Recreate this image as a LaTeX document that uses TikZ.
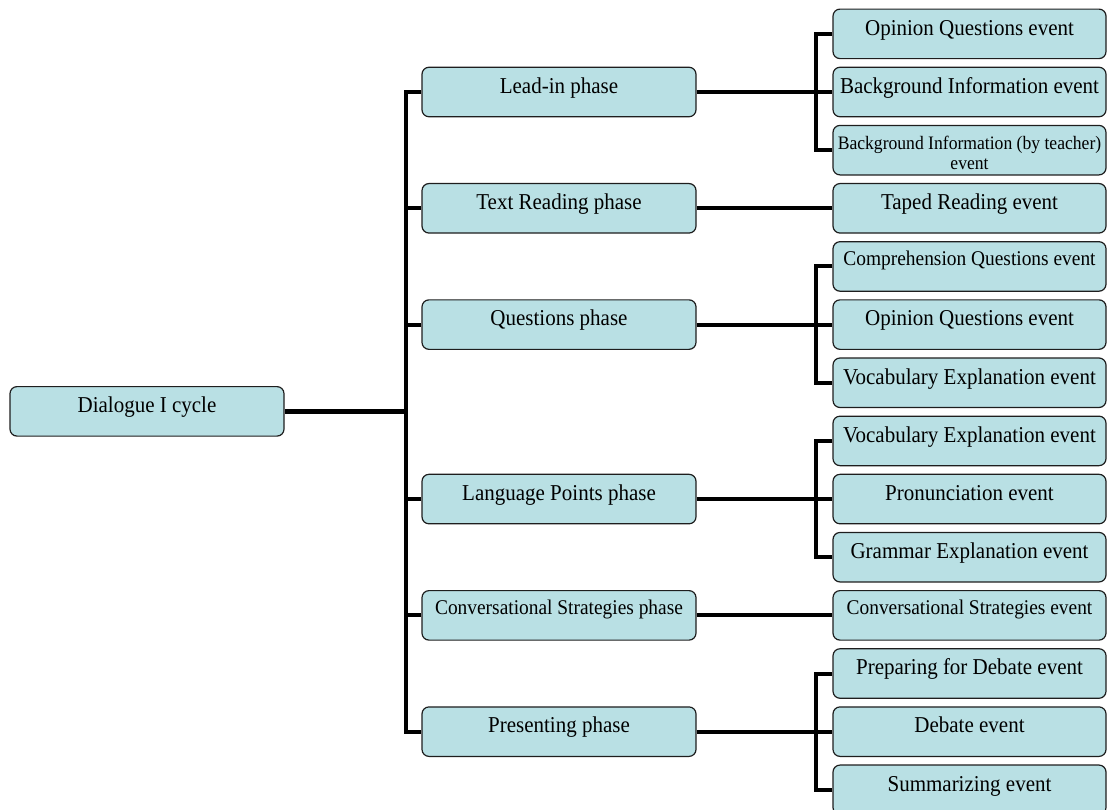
\documentclass[tikz,border=0pt]{standalone}
\usepackage{graphicx}
\usepackage{fontspec}
\setmainfont{Liberation Serif}
\definecolor{boxfill}{RGB}{185,224,228}
\definecolor{boxline}{RGB}{30,30,30}
\newcommand{\tall}[1]{\scalebox{1}[1.08]{#1}}
\tikzset{
  box/.style={draw=boxline, line width=1.2pt, fill=boxfill, rounded corners=7pt,
    minimum width=#1, inner sep=0pt, text height=26pt, text depth=23.5pt,
    anchor=north, font=\fontsize{21}{24}\selectfont},
  box/.default=273pt,
  smallbox/.style={text height=24pt, text depth=25.5pt, font=\fontsize{19.4}{22}\selectfont},
  tinybox/.style={text height=24pt, text depth=25.5pt, font=\fontsize{17.6}{19}\selectfont},
  conn/.style={line width=4pt, black, line join=miter},
}
\begin{document}
\begin{tikzpicture}[x=1pt,y=-1pt]
\useasboundingbox (0,0) rectangle (1107,809);
% root
\node[box=274pt] (root) at (147,386) {\tall{Dialogue I cycle}};
\coordinate (tr) at (406,0);
% phases
\node[box=274pt] (lead)  at (559,66.65)  {\tall{Lead-in phase}};
\node[box=274pt] (textr) at (559,182.95) {\tall{Text Reading phase}};
\node[box=274pt] (quest) at (559,299.25) {\tall{Questions phase}};
\node[box=274pt] (lang)  at (559,473.7)  {\tall{Language Points phase}};
\node[box=274pt, smallbox] (conv) at (559,590) {\tall{Conversational Strategies phase}};
\node[box=274pt] (pres)  at (559,706.3)  {\tall{Presenting phase}};
% events
\node[box] (e1)  at (969.5,8.5)    {\tall{Opinion Questions event}};
\node[box] (e2)  at (969.5,66.65)  {\tall{Background Information event}};
\node[box, tinybox] (e3) at (969.5,124.8) {\tall{\begin{tabular}[t]{@{}c@{}}Background Information (by teacher)\\event\end{tabular}}};
\node[box] (e4)  at (969.5,182.95) {\tall{Taped Reading event}};
\node[box, smallbox] (e5) at (969.5,241.1) {\tall{Comprehension Questions event}};
\node[box] (e6)  at (969.5,299.25) {\tall{Opinion Questions event}};
\node[box] (e7)  at (969.5,357.4)  {\tall{Vocabulary Explanation event}};
\node[box] (e8)  at (969.5,415.55) {\tall{Vocabulary Explanation event}};
\node[box] (e9)  at (969.5,473.7)  {\tall{Pronunciation event}};
\node[box] (e10) at (969.5,531.85) {\tall{Grammar Explanation event}};
\node[box, smallbox] (e11) at (969.5,590) {\tall{Conversational Strategies event}};
\node[box] (e12) at (969.5,648.15) {\tall{Preparing for Debate event}};
\node[box] (e13) at (969.5,706.3)  {\tall{Debate event}};
\node[box] (e14) at (969.5,764.45) {\tall{Summarizing event}};
% root to trunk
\draw[conn, line width=5pt] (root.east) -- (root.east -| tr);
\draw[conn] (lead.west) -- (lead.west -| tr) -- (pres.west -| tr) -- (pres.west);
\foreach \p in {textr,quest,lang,conv}
  \draw[conn] (\p.west) -- (\p.west -| tr);
% phases to events
\draw[conn] (lead.east) -- (e2.west);
\draw[conn] (e1.west) -- ++(-16,0) |- (e3.west);
\draw[conn] (textr.east) -- (e4.west);
\draw[conn] (quest.east) -- (e6.west);
\draw[conn] (e5.west) -- ++(-16,0) |- (e7.west);
\draw[conn] (lang.east) -- (e9.west);
\draw[conn] (e8.west) -- ++(-16,0) |- (e10.west);
\draw[conn] (conv.east) -- (e11.west);
\draw[conn] (pres.east) -- (e13.west);
\draw[conn] (e12.west) -- ++(-16,0) |- (e14.west);
\end{tikzpicture}
\end{document}
